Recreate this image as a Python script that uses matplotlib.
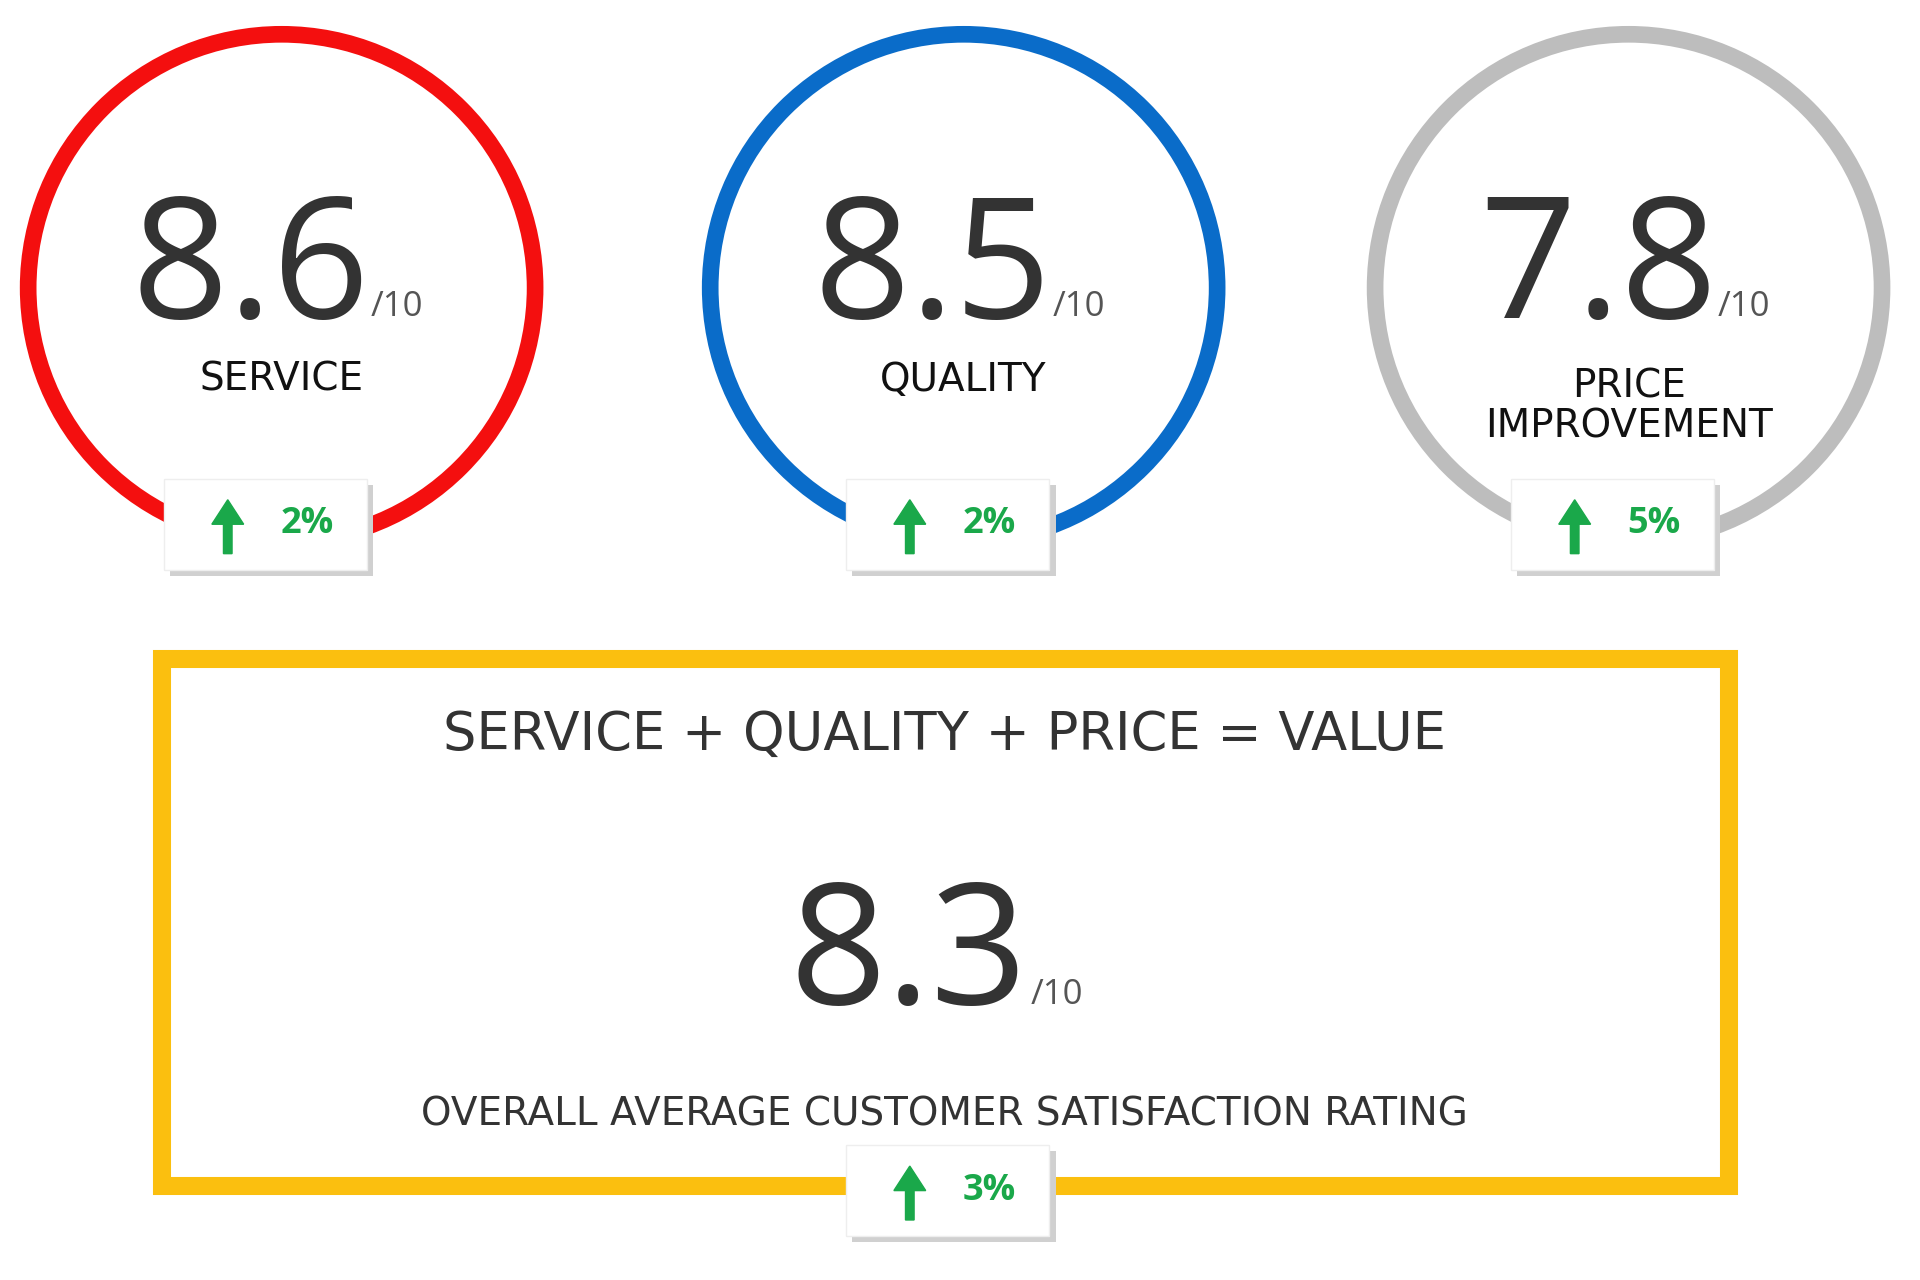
import matplotlib.pyplot as plt
from matplotlib.patches import Circle, Rectangle, FancyArrow

# data
labels = ["SERVICE", "QUALITY", "PRICE\nIMPROVEMENT"]
scores = [8.6, 8.5, 7.8]
changes = ["2%", "2%", "5%"]
ring_colors = ["#f40f0f", "#0a6cc9", "#bdbdbd"]
overall_score = 8.3
overall_change = "3%"
overall_title = "SERVICE + QUALITY + PRICE = VALUE"
overall_label = "OVERALL AVERAGE CUSTOMER SATISFACTION RATING"

INK = "#333333"
GREEN = "#1aa84a"
FONT = "Open Sans"
LABEL_FONT = "DejaVu Sans"

fig = plt.figure(figsize=(19.2, 12.8), dpi=100)
ax = fig.add_axes([0, 0, 1, 1])
ax.set_xlim(0, 1568)
ax.set_ylim(1045, 0)
ax.axis("off")


def badge(cx, cy, pct):
    w, h = 166, 74
    ax.add_patch(Rectangle((cx - w / 2 + 5, cy - h / 2 + 5), w, h, facecolor="#d0d0d0", edgecolor="none", zorder=4))
    ax.add_patch(Rectangle((cx - w / 2, cy - h / 2), w, h, facecolor="white", edgecolor="#eeeeee", lw=1, zorder=5))
    ax.add_patch(FancyArrow(cx - 31, cy + 24, 0, -44, width=7, head_width=26, head_length=20,
                            length_includes_head=True, color=GREEN, zorder=6))
    ax.text(cx + 12, cy, pct, fontsize=26, weight="bold", color=GREEN, ha="left", va="center",
            family=FONT, zorder=6)


centers = [230, 787, 1330]
for cx, lab, val, ch, col in zip(centers, labels, scores, changes, ring_colors):
    ax.add_patch(Circle((cx, 235), 207, fill=False, edgecolor=col, lw=12, zorder=2))
    ax.text(cx - 25, 260, f"{val:.1f}", fontsize=122, color=INK, ha="center", va="baseline", family=FONT, zorder=3)
    ax.text(cx + 73, 258, "/10", fontsize=25, color="#555555", ha="left", va="baseline", family=FONT, zorder=3)
    ax.text(cx, 310 if "\n" not in lab else 332, lab, fontsize=28, color="#111111", ha="center", va="center",
            family=LABEL_FONT, linespacing=1.05, zorder=3)
    badge(cx - 13, 428, ch)

ax.add_patch(Rectangle((132, 538), 1280, 430, fill=False, edgecolor="#fbbf0f", lw=13, zorder=2))
ax.text(771, 600, overall_title, fontsize=38, color=INK, ha="center", va="center", family=LABEL_FONT, zorder=3)
ax.text(742, 820, f"{overall_score:.1f}", fontsize=122, color=INK, ha="center", va="baseline", family=FONT, zorder=3)
ax.text(842, 820, "/10", fontsize=25, color="#555555", ha="left", va="baseline", family=FONT, zorder=3)
ax.text(771, 910, overall_label, fontsize=28, color=INK, ha="center", va="center", family=LABEL_FONT, zorder=3)
badge(774, 972, overall_change)

fig.savefig("out.png", facecolor="white")
